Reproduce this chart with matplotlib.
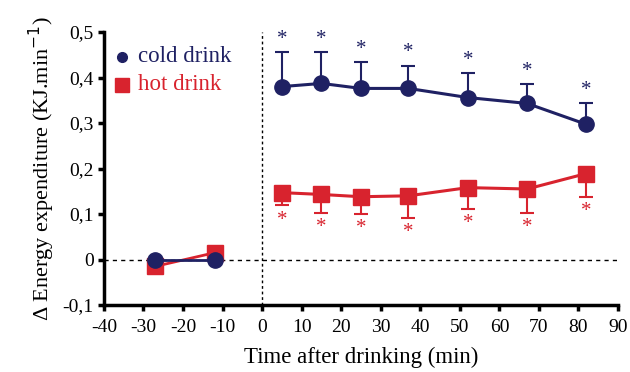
import matplotlib.pyplot as plt
import numpy as np
from matplotlib.ticker import FuncFormatter

plt.rcParams['font.family'] = ['Liberation Serif', 'DejaVu Serif']
plt.rcParams['axes.unicode_minus'] = False

# time points (min)
pre_t = [-27, -12]
post_t = [5, 15, 25, 37, 52, 67, 82]

# cold drink
cold_pre = [0.0, 0.0]
cold_post = [0.380, 0.387, 0.376, 0.376, 0.356, 0.343, 0.297]
cold_err = [0.075, 0.068, 0.057, 0.050, 0.053, 0.042, 0.046]

# hot drink
hot_pre = [-0.015, 0.015]
hot_post = [0.147, 0.143, 0.138, 0.140, 0.158, 0.155, 0.189]
hot_err = [0.028, 0.040, 0.038, 0.048, 0.046, 0.052, 0.051]

navy = '#1f2163'
red = '#d8232e'

fig = plt.figure(figsize=(6.3, 3.72), dpi=100)
ax = fig.add_axes([0.165, 0.18, 0.816, 0.734])

ax.axhline(0, color='black', lw=1, ls=(0, (3, 3)), zorder=1)
ax.axvline(0, color='black', lw=1, ls=(0, (2, 2)), zorder=1)

# baseline segment
ax.plot(pre_t, hot_pre, color=red, marker='s', ms=11, lw=2, zorder=3)
ax.plot(pre_t, cold_pre, color=navy, marker='o', ms=11, lw=2, zorder=4)

# after drinking, one-sided error bars
zeros = [0] * len(post_t)
ax.errorbar(post_t, cold_post, yerr=[zeros, cold_err], color=navy, marker='o',
            ms=11, lw=2.2, elinewidth=1.5, capsize=5, capthick=1.5, zorder=4)
ax.errorbar(post_t, hot_post, yerr=[hot_err, zeros], color=red, marker='s',
            ms=11, lw=2.2, elinewidth=1.5, capsize=5, capthick=1.5, zorder=3)

for t, v, e in zip(post_t, cold_post, cold_err):
    ax.text(t, v + e + 0.008, '*', color=navy, ha='center', va='bottom', fontsize=15)
for t, v, e in zip(post_t, hot_post, hot_err):
    ax.text(t, v - e - 0.012, '*', color=red, ha='center', va='top', fontsize=15)

# legend drawn as plain markers and text
ax.plot([-35.5], [0.446], marker='o', color=navy, ms=7, ls='none')
ax.text(-31.5, 0.446, 'cold drink', color=navy, va='center', fontsize=16.5)
ax.plot([-35.5], [0.384], marker='s', color=red, ms=10, ls='none')
ax.text(-31.5, 0.384, 'hot drink', color=red, va='center', fontsize=16.5)

ax.set_xlim(-40, 90)
ax.set_ylim(-0.1, 0.5)
ax.set_xticks(np.arange(-40, 91, 10))
ax.set_yticks(np.arange(-0.1, 0.51, 0.1))


def comma(v, pos):
    v = round(v, 1)
    if v == 0:
        return '0'
    return ('%.1f' % v).replace('.', ',')


ax.yaxis.set_major_formatter(FuncFormatter(comma))

for s in ['top', 'right']:
    ax.spines[s].set_visible(False)
for s in ['left', 'bottom']:
    ax.spines[s].set_linewidth(2.5)
ax.tick_params(width=2.5, length=4, labelsize=14)
ax.tick_params(axis='x', pad=6)

ax.set_xlabel('Time after drinking (min)', fontsize=16.5, labelpad=8)
ax.set_ylabel('Δ Energy expenditure (KJ.min$^{-1}$)', fontsize=16, labelpad=4)

fig.savefig('out.png', dpi=100)
